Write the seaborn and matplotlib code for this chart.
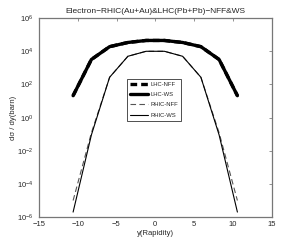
import numpy as np
import pandas as pd
import matplotlib
matplotlib.use("Agg")
import matplotlib.pyplot as plt
import seaborn as sns
from matplotlib.ticker import FixedLocator, NullLocator

rapidity = [-10.6, -8.24, -5.89, -3.53, -1.18, 1.18, 3.53, 5.89, 8.24, 10.6]
lhc_nff = [21, 3200, 1.9e4, 3.4e4, 4.5e4, 4.5e4, 3.4e4, 1.9e4, 3200, 21]
lhc_ws = [21, 3200, 1.9e4, 3.4e4, 4.5e4, 4.5e4, 3.4e4, 1.9e4, 3200, 21]
rhic_nff = [1.0e-5, 0.12, 270, 5000, 1.0e4, 1.0e4, 5000, 270, 0.12, 1.0e-5]
rhic_ws = [2.0e-6, 0.09, 270, 5000, 1.0e4, 1.0e4, 5000, 270, 0.09, 2.0e-6]
series_names = ["LHC-NFF", "LHC-WS", "RHIC-NFF", "RHIC-WS"]
x_ticks = [-15, -10, -5, 0, 5, 10, 15]
y_ticks = [1e-6, 1e-4, 1e-2, 1e0, 1e2, 1e4, 1e6]

sns.set_style("white")
plt.rcParams['font.family'] = ['Liberation Sans', 'DejaVu Sans']

rows = []
for name, vals in zip(series_names, [lhc_nff, lhc_ws, rhic_nff, rhic_ws]):
    for xv, yv in zip(rapidity, vals):
        rows.append({"y": xv, "val": yv, "series": name})
df = pd.DataFrame(rows)

fig = plt.figure(figsize=(3.0, 2.45), dpi=100)
ax = fig.add_axes([0.13, 0.114, 0.775, 0.812])

styles = {
    "LHC-NFF": dict(lw=2.4, ls=(0, (2.0, 1.2))),
    "LHC-WS": dict(lw=2.4, ls="-"),
    "RHIC-NFF": dict(lw=0.8, ls=(0, (5, 3)), color="#555555"),
    "RHIC-WS": dict(lw=0.8, ls="-"),
}
for name in series_names:
    st = dict(styles[name])
    color = st.pop("color", "black")
    sns.lineplot(data=df[df.series == name], x="y", y="val", ax=ax,
                 color=color, label=name, estimator=None, **st)

ax.set_yscale("log")
ax.set_xlim(-15, 15)
ax.set_ylim(1e-6, 1e6)
ax.xaxis.set_major_locator(FixedLocator(x_ticks))
ax.yaxis.set_major_locator(FixedLocator(y_ticks))
ax.yaxis.set_minor_locator(NullLocator())
ax.set_xticklabels(["\u221215", "\u221210", "\u22125", "0", "5", "10", "15"])
ax.tick_params(direction="in", length=2.5, width=0.5, color="#666666",
               labelsize=5.5, top=True, right=True)
ax.tick_params(axis="x", pad=3)
ax.tick_params(axis="y", pad=4)
for sp in ax.spines.values():
    sp.set_color("#777777")
    sp.set_linewidth(0.9)
    sp.set_visible(True)

ax.set_title("Electron\u2212RHIC(Au+Au)&LHC(Pb+Pb)\u2212NFF&WS", fontsize=6, pad=4)
ax.set_xlabel("y(Rapidity)", fontsize=5.5, labelpad=1)
ax.set_ylabel("d\u03c3 / dy(barn)", fontsize=5.5, labelpad=0)

leg = ax.legend(loc="upper left", bbox_to_anchor=(0.378, 0.695), fontsize=4.2,
                frameon=True, fancybox=False, handlelength=3.2,
                borderpad=0.5, labelspacing=0.9, handletextpad=0.4,
                borderaxespad=0)
leg.get_frame().set_edgecolor("black")
leg.get_frame().set_linewidth(0.6)

fig.savefig("out.png", dpi=100)
